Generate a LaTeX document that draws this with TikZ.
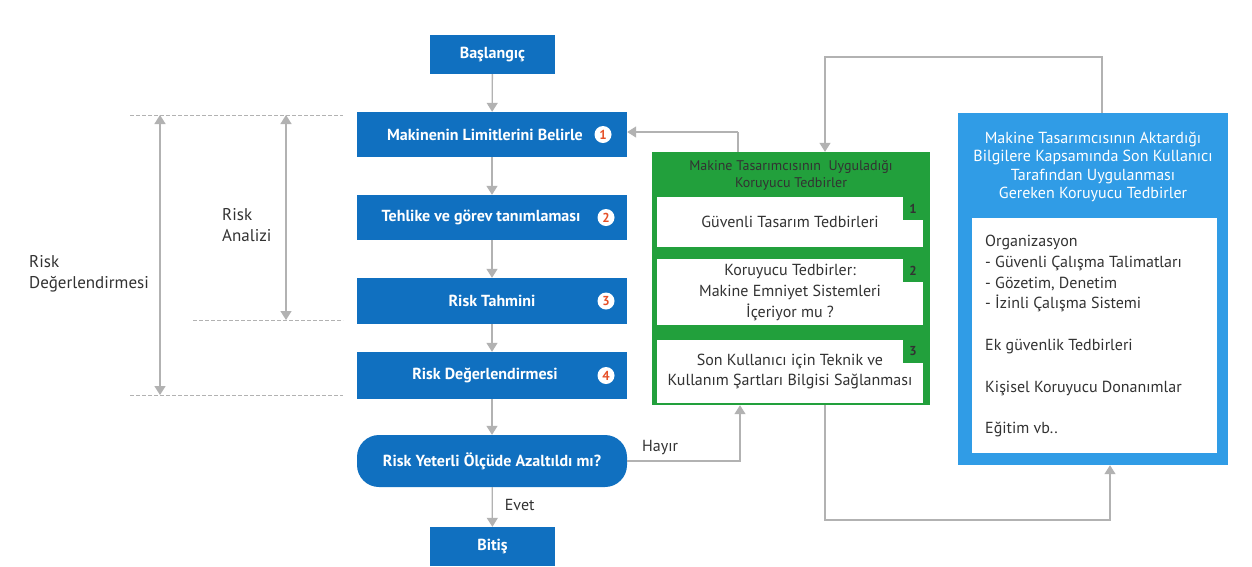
\documentclass[tikz,border=0pt]{standalone}
\usepackage{fontspec}
\setmainfont{PT Sans}
\usetikzlibrary{arrows.meta,calc}
\definecolor{dblue}{RGB}{16,112,192}
\definecolor{lblue}{RGB}{48,156,230}
\definecolor{gbox}{RGB}{34,160,60}
\definecolor{garr}{RGB}{178,178,178}
\definecolor{numred}{RGB}{230,80,40}
\definecolor{txt}{RGB}{50,50,50}
\begin{document}
\begin{tikzpicture}[x=1pt,y=-1pt,
  flowbox/.style={draw=none,fill=dblue,text=white,font=\bfseries\fontsize{16}{18}\selectfont,minimum width=270pt,inner sep=0pt},
  smallbox/.style={flowbox,minimum width=125pt},
  conn/.style={draw=garr,line width=1.3pt,-{Triangle[width=11pt,length=9pt]}},
  line/.style={draw=garr,line width=1.3pt},
  dashline/.style={draw=garr,line width=1pt,dash pattern=on 3.5pt off 2.5pt},
  numc/.style={circle,fill=white,text=numred,font=\bfseries\fontsize{13}{13}\selectfont,inner sep=0pt,minimum size=17pt},
  wbox/.style={fill=white,draw=none,inner sep=0pt,text=txt,font=\fontsize{16}{21}\selectfont,align=center},
  tab/.style={fill=gbox,text=txt,font=\bfseries\fontsize{13}{13}\selectfont,inner sep=0pt,minimum width=20pt,minimum height=23pt,anchor=north east},
  lbl/.style={text=txt,font=\fontsize{17}{21}\selectfont,align=left,inner sep=0pt}
]
\useasboundingbox (0,0) rectangle (1252,566);
\fill[white] (0,0) rectangle (1252,566);

% main flow
\node[smallbox,minimum height=39pt] (start) at (492.5,54.5) {Başlangıç};
\node[flowbox,minimum height=45pt] (s1) at (492,134.5) {\hspace*{-14pt}Makinenin Limitlerini Belirle};
\node[flowbox,minimum height=45pt] (s2) at (492,217.5) {\hspace*{-22pt}Tehlike ve görev tanımlaması};
\node[flowbox,minimum height=46pt] (s3) at (492,301) {Risk Tahmini};
\node[flowbox,minimum height=47pt] (s4) at (492,375.5) {\hspace*{-14pt}Risk Değerlendirmesi};
\node[flowbox,minimum height=52pt,rounded corners=22pt] (dec) at (492,461) {Risk Yeterli Ölçüde Azaltıldı mı?};
\node[smallbox,minimum height=39pt] (end) at (492.5,546.5) {Bitiş};

\node[numc] (n1) at (603,134.5) {1};
\node[numc] (n2) at (606,217.5) {2};
\node[numc] (n3) at (606,301) {3};
\node[numc] (n4) at (606,375.5) {4};

\draw[conn] (start) -- (s1);
\draw[conn] (s1) -- (s2);
\draw[conn] (s2) -- (s3);
\draw[conn] (s3) -- (s4);
\draw[conn] (s4) -- (dec);
\draw[conn] (dec) -- node[lbl,right=12pt,pos=0.45,font=\fontsize{16}{18}\selectfont] (evet) {Evet} (end);

% green box
\node[fill=gbox,minimum width=278pt,minimum height=253pt,inner sep=0pt] (green) at (791,278.5) {};
\node[text=txt,font=\fontsize{14}{17}\selectfont,align=center,inner sep=0pt] (gtitle) at (791,175) {Makine Tasarımcısının\ \ Uyguladığı\\Koruyucu Tedbirler};
\node[wbox,minimum width=266pt,minimum height=50pt] (g1) at (790,222) {Güvenli Tasarım Tedbirleri};
\node[wbox,minimum width=266pt,minimum height=66pt] (g2) at (790,292) {Koruyucu Tedbirler:\\Makine Emniyet Sistemleri\\İçeriyor mu ?};
\node[wbox,minimum width=266pt,minimum height=63pt,font=\fontsize{16}{20}\selectfont] (g3) at (790,371) {Son Kullanıcı için Teknik ve\\Kullanım Şartları Bilgisi Sağlanması};
\node[tab] (t1) at (g1.north east) {1};
\node[tab] (t2) at (g2.north east) {2};
\node[tab] (t3) at (g3.north east) {3};

% blue box
\node[fill=lblue,minimum width=270pt,minimum height=352pt,inner sep=0pt] (blue) at (1093,289) {};
\node[text=white,font=\fontsize{16}{18.4}\selectfont,align=center,inner sep=0pt] (btitle) at (1093,167) {Makine Tasarımcısının Aktardığı\\Bilgilere Kapsamında Son Kullanıcı\\Tarafından Uygulanması\\Gereken Koruyucu Tedbirler};
\node[fill=white,minimum width=245pt,minimum height=235pt,inner sep=0pt] (bin) at (1094.5,335.5) {};
\node[lbl,anchor=north west,font=\fontsize{16}{20.7}\selectfont] (blist) at (985,235) {Organizasyon\\- Güvenli Çalışma Talimatları\\- Gözetim, Denetim\\- İzinli Çalışma Sistemi\\[21pt]Ek güvenlik Tedbirleri\\[21pt]Kişisel Koruyucu Donanımlar\\[21pt]Eğitim vb..};

% loops
\coordinate (c1) at (738,132);
\draw[line] (green.north -| c1) -- (c1);
\draw[conn] (c1) -- (s1.east |- c1);

\coordinate (c2) at (1102,57);
\coordinate (c3) at (825,57);
\draw[conn] (blue.north -| c2) -- (c2) -- (c3) -- (green.north -| c3);

\coordinate (c4) at (825,520);
\coordinate (c5) at (1110,520);
\draw[conn] (green.south -| c4) -- (c4) -- (c5) -- (blue.south -| c5);

\coordinate (c6) at (740,461);
\draw[conn] (dec.east) -- (c6) -- (green.south -| c6);
\node[lbl,anchor=south west,font=\fontsize{16}{18}\selectfont] (hayir) at (642,455) {Hayır};

% left annotations
\coordinate (d1a) at (130,115);
\coordinate (d1b) at (343,115);
\coordinate (d2a) at (193,320);
\coordinate (d2b) at (343,320);
\coordinate (d3a) at (130,395);
\coordinate (d3b) at (343,395);
\draw[dashline] (d1a) -- (d1b);
\draw[dashline] (d2a) -- (d2b);
\draw[dashline] (d3a) -- (d3b);
\coordinate (v1a) at (160,115);
\coordinate (v1b) at (160,395);
\coordinate (v2a) at (286,115);
\coordinate (v2b) at (286,320);
\draw[line,{Triangle[width=11pt,length=9pt]}-{Triangle[width=11pt,length=9pt]}] (v1a) -- (v1b);
\draw[line,{Triangle[width=11pt,length=9pt]}-{Triangle[width=11pt,length=9pt]}] (v2a) -- (v2b);
\node[lbl,anchor=west] (ra) at (222,225) {Risk\\Analizi};
\node[lbl,anchor=west] (rd) at (29,274) {Risk\\Değerlendirmesi};
\end{tikzpicture}
\end{document}
